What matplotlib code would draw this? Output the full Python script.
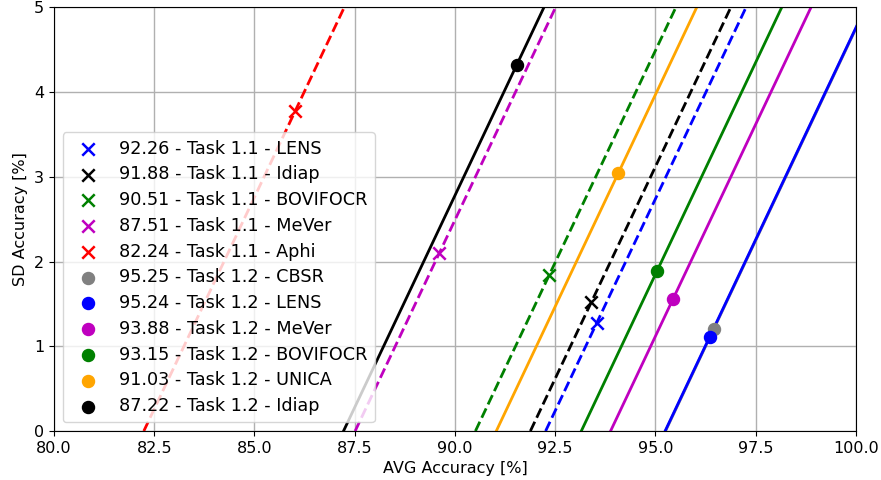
import numpy as np
import matplotlib
matplotlib.use("Agg")
import matplotlib.pyplot as plt

# Task 1.1 results (score = avg - sd)
T11_NAMES  = ["LENS", "Idiap", "BOVIFOCR", "MeVer", "Aphi"]
T11_SCORES = [92.26, 91.88, 90.51, 87.51, 82.24]
T11_AVG    = [93.53, 93.40, 92.35, 89.61, 86.01]
T11_SD     = [1.27, 1.52, 1.84, 2.10, 3.77]
T11_COLORS = ["b", "k", "g", "m", "r"]

# Task 1.2 results
T12_NAMES  = ["CBSR", "LENS", "MeVer", "BOVIFOCR", "UNICA", "Idiap"]
T12_SCORES = [95.25, 95.24, 93.88, 93.15, 91.03, 87.22]
T12_AVG    = [96.45, 96.35, 95.44, 95.04, 94.07, 91.54]
T12_SD     = [1.20, 1.11, 1.56, 1.89, 3.04, 4.32]
T12_COLORS = ["gray", "b", "m", "g", "orange", "k"]

plt.rcParams["font.size"] = 11.5

fig, ax = plt.subplots(figsize=(8.81, 4.8), dpi=100)
fig.subplots_adjust(left=0.0613, right=0.9716, top=0.985, bottom=0.102)

sd_line = np.array([0.0, 5.0])

for name, s, a, sd, c in zip(T11_NAMES, T11_SCORES, T11_AVG, T11_SD, T11_COLORS):
    ax.plot(s + sd_line, sd_line, "--", color=c, lw=2)
    ax.scatter(a, sd, marker="x", color=c, s=80, lw=1.8, zorder=3,
               label=f"{s:.2f} - Task 1.1 - {name}")

for name, s, a, sd, c in zip(T12_NAMES, T12_SCORES, T12_AVG, T12_SD, T12_COLORS):
    ax.plot(s + sd_line, sd_line, "-", color=c, lw=2)
    ax.scatter(a, sd, marker="o", color=c, s=75, zorder=3,
               label=f"{s:.2f} - Task 1.2 - {name}")

ax.set_xlim(80, 100)
ax.set_ylim(0, 5)
ax.set_xticks(np.arange(80, 100.1, 2.5))
ax.set_xticklabels([f"{v:.1f}" for v in np.arange(80, 100.1, 2.5)])
ax.set_yticks([0, 1, 2, 3, 4, 5])
ax.grid(True, color="#b0b0b0", lw=1)
ax.set_axisbelow(True)
ax.set_xlabel("AVG Accuracy [%]")
ax.set_ylabel("SD Accuracy [%]")
ax.legend(loc="lower left", fontsize=12.7, labelspacing=0.44)

plt.savefig("out.png", dpi=100)
